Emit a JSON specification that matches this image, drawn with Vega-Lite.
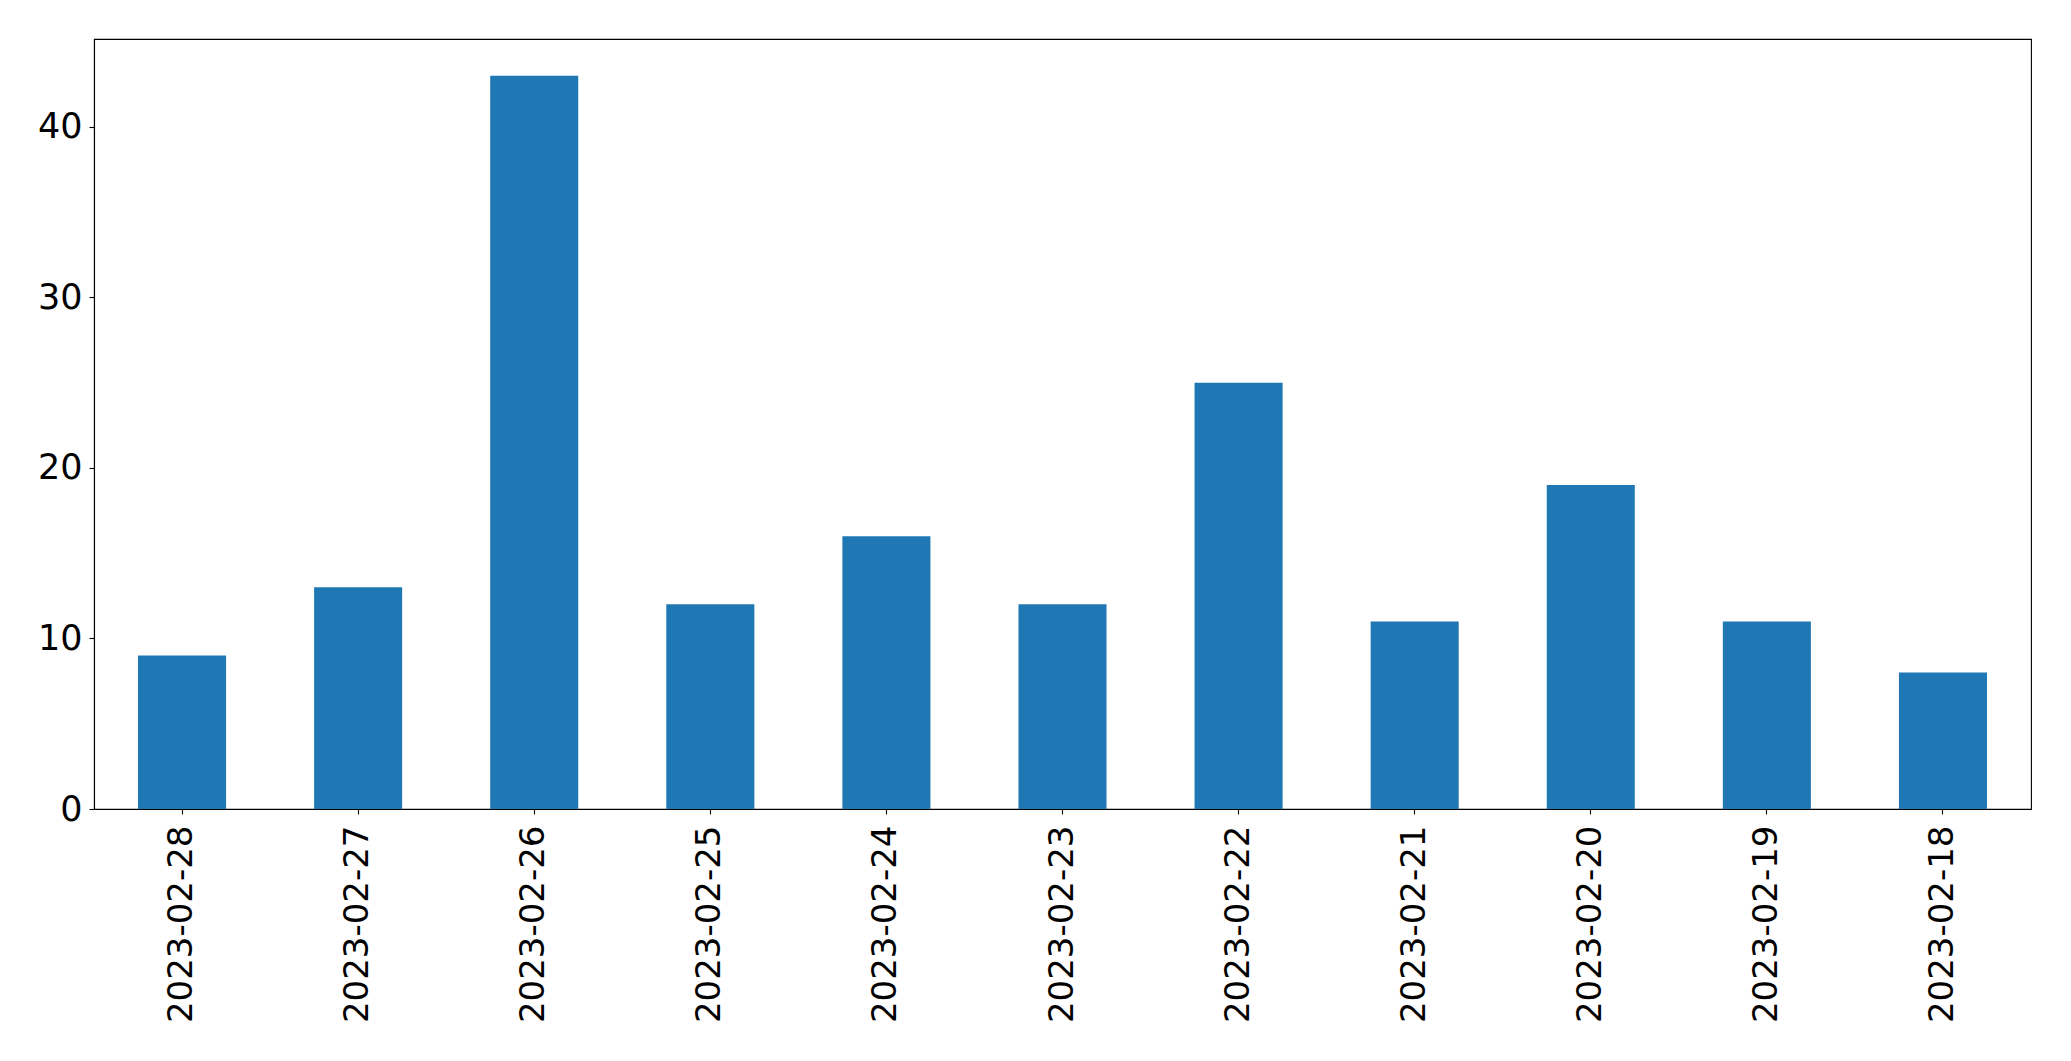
{
  "$schema": "https://vega.github.io/schema/vega-lite/v6.json",
  "width": 1937,
  "height": 770,
  "autosize": {"type": "none"},
  "padding": {"left": 94, "top": 39, "right": 40, "bottom": 252},
  "background": "white",
  "config": {
    "view": {"stroke": "black", "strokeWidth": 1.1},
    "font": "DejaVu Sans"
  },
  "data": {
    "values": [
      {"date": "2023-02-28", "count": 9},
      {"date": "2023-02-27", "count": 13},
      {"date": "2023-02-26", "count": 43},
      {"date": "2023-02-25", "count": 12},
      {"date": "2023-02-24", "count": 16},
      {"date": "2023-02-23", "count": 12},
      {"date": "2023-02-22", "count": 25},
      {"date": "2023-02-21", "count": 11},
      {"date": "2023-02-20", "count": 19},
      {"date": "2023-02-19", "count": 11},
      {"date": "2023-02-18", "count": 8}
    ]
  },
  "mark": {"type": "bar", "color": "#1f77b4"},
  "encoding": {
    "x": {
      "field": "date",
      "type": "ordinal",
      "sort": null,
      "scale": {"paddingInner": 0.5, "paddingOuter": 0.25},
      "axis": {
        "title": null,
        "labelAngle": -90,
        "labelAlign": "right",
        "labelBaseline": "middle",
        "labelFont": "DejaVu Sans",
        "labelFontSize": 34,
        "labelLimit": 0,
        "labelColor": "black",
        "labelPadding": 11,
        "tickSize": 5,
        "tickColor": "black",
        "tickWidth": 1.1,
        "domainColor": "black",
        "domainWidth": 1.1,
        "grid": false
      }
    },
    "y": {
      "field": "count",
      "type": "quantitative",
      "scale": {"domain": [0, 45.15], "nice": false},
      "axis": {
        "title": null,
        "values": [0, 10, 20, 30, 40],
        "labelFont": "DejaVu Sans",
        "labelFontSize": 35,
        "labelColor": "black",
        "labelPadding": 7,
        "tickSize": 5,
        "tickColor": "black",
        "tickWidth": 1.1,
        "domainColor": "black",
        "domainWidth": 1.1,
        "grid": false
      }
    }
  }
}
